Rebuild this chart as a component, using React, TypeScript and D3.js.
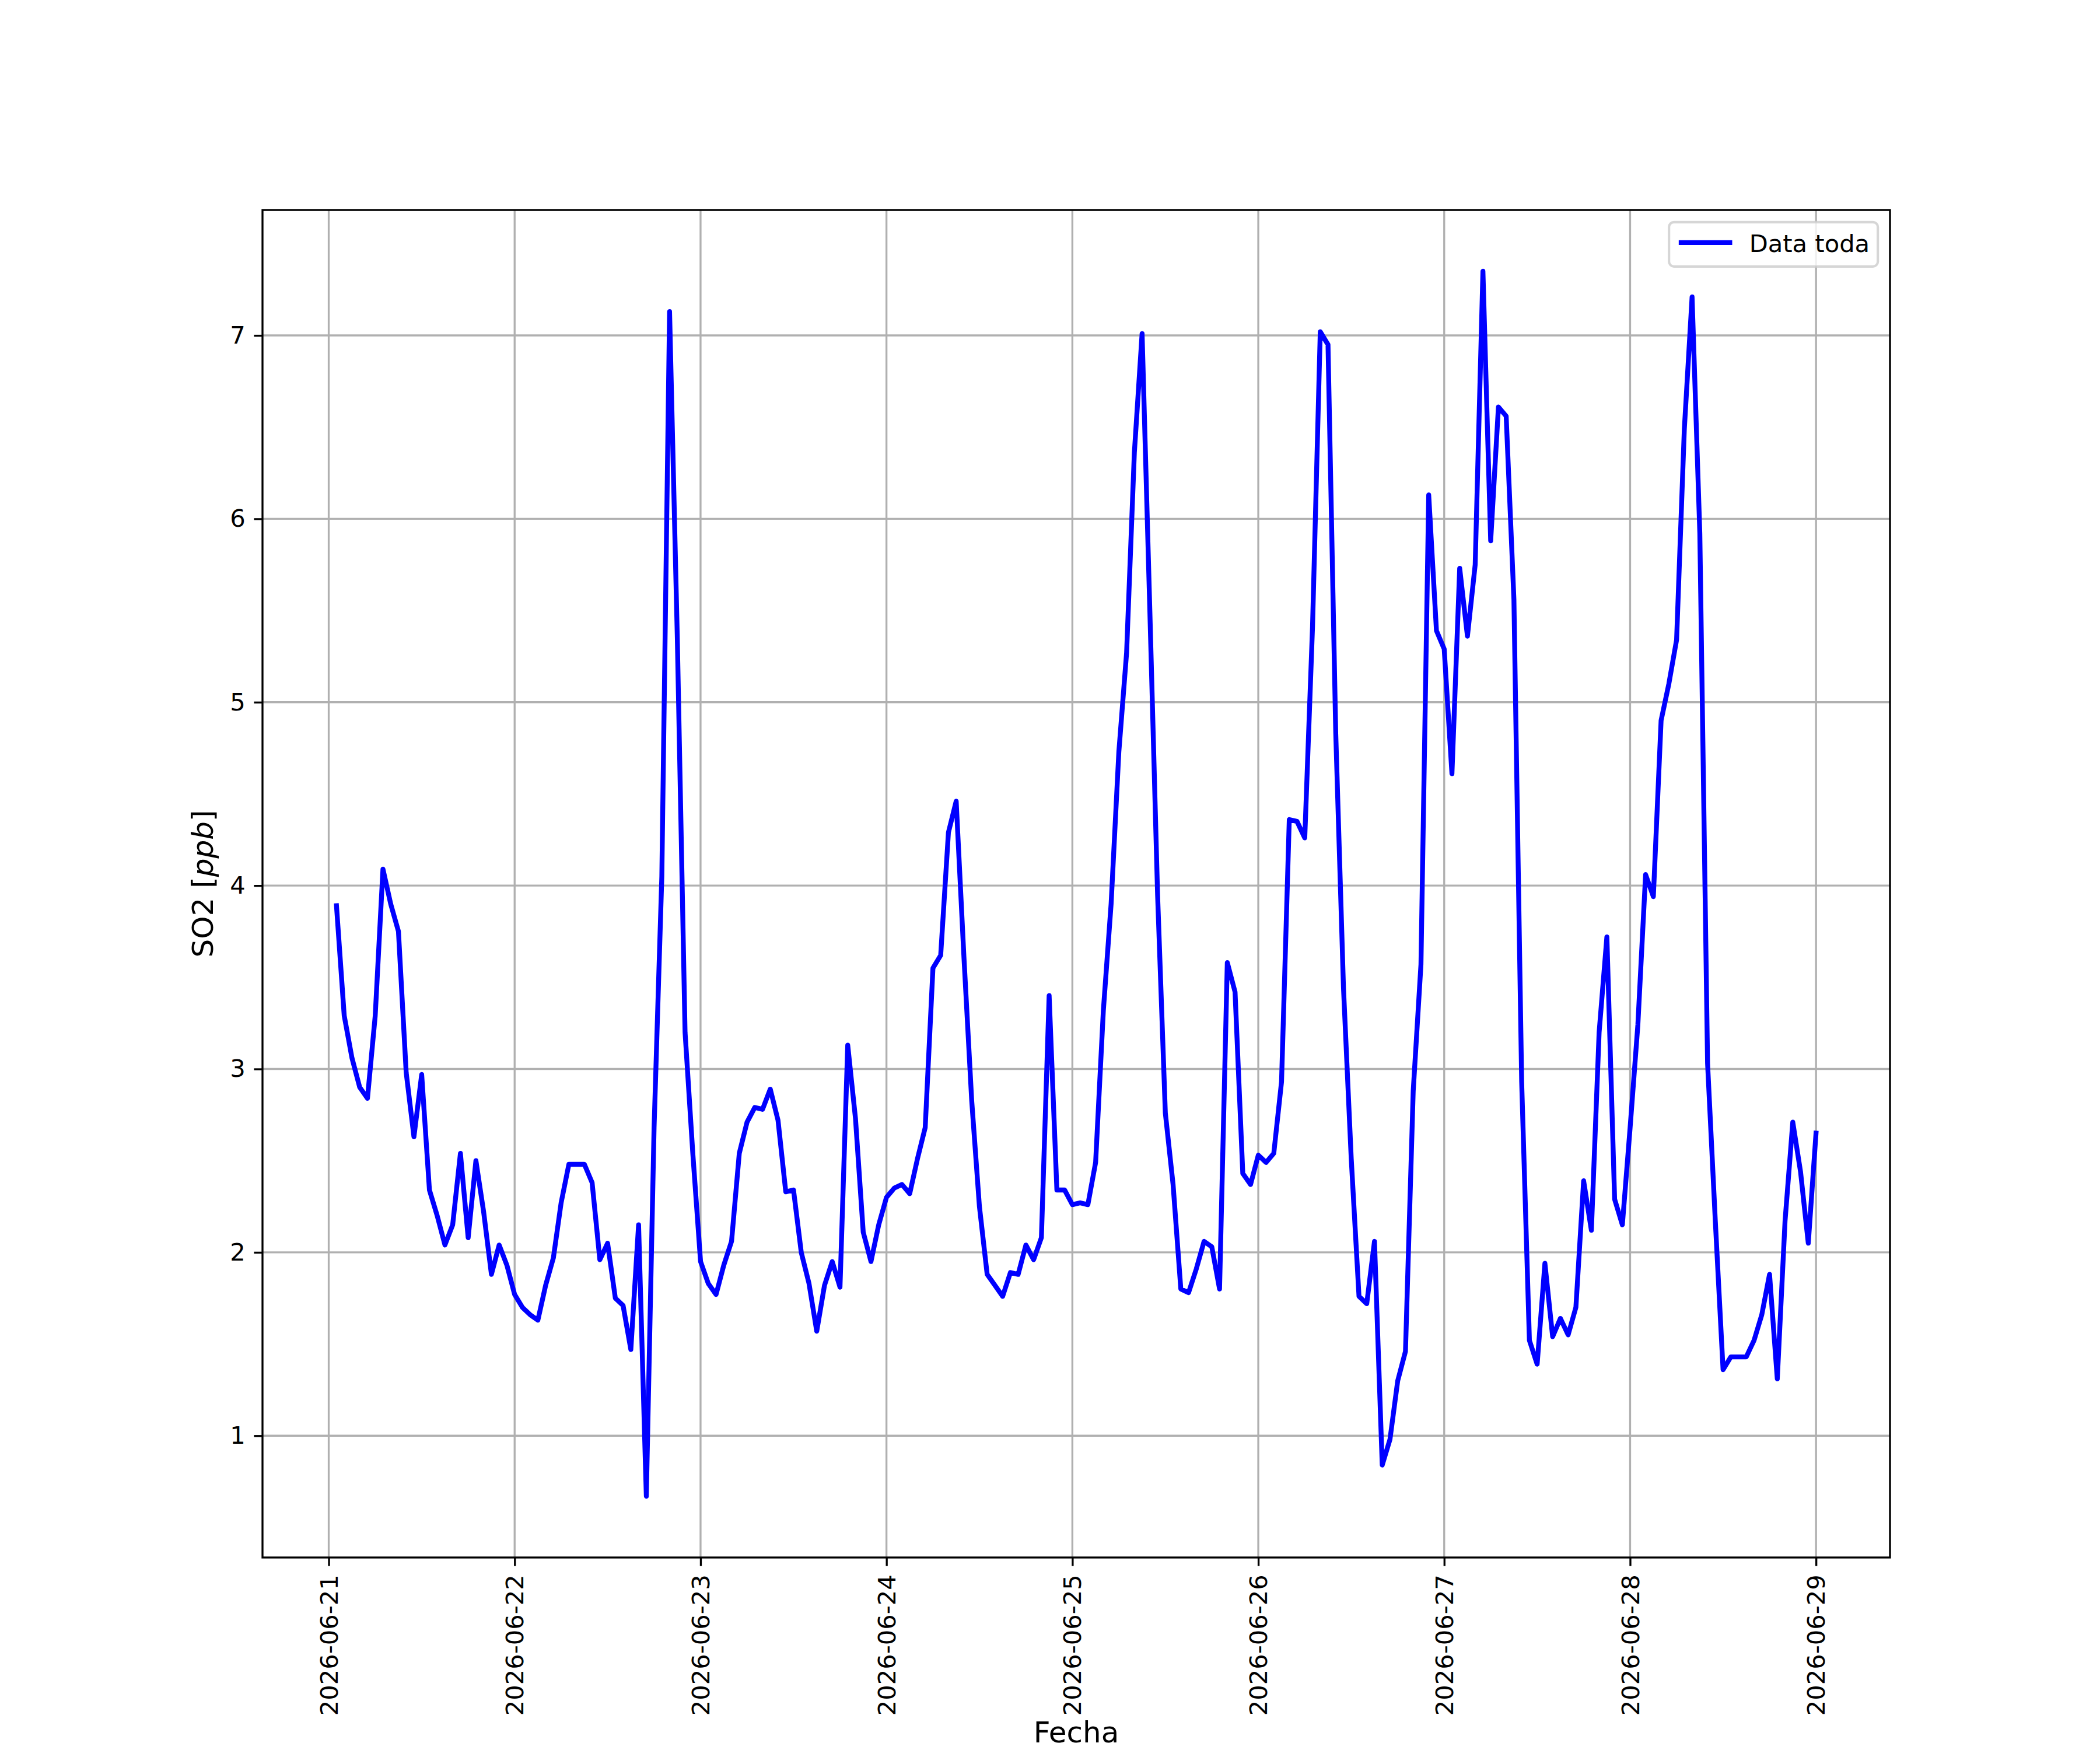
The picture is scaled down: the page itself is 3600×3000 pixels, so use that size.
import React, { useEffect, useRef } from 'react';
import * as d3 from 'd3';

// hourly SO2 readings, first one at 2026-06-21 01:00
const startTime = '2026-06-21T01:00:00Z';
const stepHours = 1;

const so2 = [
  3.89, 3.29, 3.06, 2.90, 2.84, 3.29, 4.09, 3.90, 3.75, 2.98, 2.63, 2.97,
  2.34, 2.20, 2.04, 2.15, 2.54, 2.08, 2.50, 2.22, 1.88, 2.04, 1.93, 1.77,
  1.70, 1.66, 1.63, 1.82, 1.97, 2.27, 2.48, 2.48, 2.48, 2.38, 1.96, 2.05,
  1.75, 1.71, 1.47, 2.15, 0.67, 2.68, 4.05, 7.13, 5.35, 3.20, 2.54, 1.95,
  1.83, 1.77, 1.93, 2.06, 2.54, 2.71, 2.79, 2.78, 2.89, 2.72, 2.33, 2.34,
  2.00, 1.83, 1.57, 1.82, 1.95, 1.81, 3.13, 2.73, 2.11, 1.95, 2.15, 2.30,
  2.35, 2.37, 2.32, 2.51, 2.68, 3.55, 3.62, 4.29, 4.46, 3.61, 2.83, 2.25,
  1.88, 1.82, 1.76, 1.89, 1.88, 2.04, 1.96, 2.08, 3.40, 2.34, 2.34, 2.26,
  2.27, 2.26, 2.49, 3.32, 3.90, 4.73, 5.27, 6.36, 7.01, 5.50, 3.95, 2.76,
  2.37, 1.80, 1.78, 1.91, 2.06, 2.03, 1.80, 3.58, 3.42, 2.43, 2.37, 2.53,
  2.49, 2.54, 2.93, 4.36, 4.35, 4.26, 5.41, 7.02, 6.95, 4.83, 3.44, 2.51,
  1.76, 1.72, 2.06, 0.84, 0.98, 1.30, 1.46, 2.88, 3.57, 6.13, 5.39, 5.29,
  4.61, 5.73, 5.36, 5.75, 7.35, 5.88, 6.61, 6.56, 5.56, 2.93, 1.52, 1.39,
  1.94, 1.54, 1.64, 1.55, 1.70, 2.39, 2.12, 3.20, 3.72, 2.29, 2.15, 2.68,
  3.24, 4.06, 3.94, 4.90, 5.10, 5.34, 6.49, 7.21, 5.92, 3.03, 2.17, 1.36,
  1.43, 1.43, 1.43, 1.52, 1.66, 1.88, 1.31, 2.17, 2.71, 2.44, 2.05, 2.65,
];

const dayTicks = [
  '2026-06-21', '2026-06-22', '2026-06-23', '2026-06-24', '2026-06-25',
  '2026-06-26', '2026-06-27', '2026-06-28', '2026-06-29',
];
const yTicks = [1, 2, 3, 4, 5, 6, 7];
const seriesLabel = 'Data toda';

export default function App() {
  const svgRef = useRef<SVGSVGElement>(null);

  useEffect(() => {
    if (!svgRef.current) return;
    document.body.style.margin = '0';

    const svg = d3.select(svgRef.current);
    svg.selectAll('*').remove();

    const width = 3600;
    const height = 3000;
    const margin = { top: 360, right: 360, bottom: 330, left: 450 };
    const x0 = margin.left;
    const x1 = width - margin.right;
    const y0 = margin.top;
    const y1 = height - margin.bottom;
    const font = 'DejaVu Sans';
    const pt = 300 / 72;
    const tickLen = 3.5 * pt;
    const thin = 0.8 * pt;

    const t0 = new Date(startTime).getTime();
    const data = so2.map((v, i) => ({ t: new Date(t0 + i * stepHours * 3600e3), v }));

    // matplotlib style 5% margins on both axes
    const tMin = +data[0].t;
    const tMax = +data[data.length - 1].t;
    const tPad = (tMax - tMin) * 0.05;
    const x = d3.scaleUtc()
      .domain([new Date(tMin - tPad), new Date(tMax + tPad)])
      .range([x0, x1]);

    const [lo, hi] = d3.extent(so2) as [number, number];
    const vPad = (hi - lo) * 0.05;
    const y = d3.scaleLinear()
      .domain([lo - vPad, hi + vPad])
      .range([y1, y0]);

    const parseDay = d3.utcParse('%Y-%m-%d');
    const tickDates = dayTicks.map(d => parseDay(d) as Date);

    svg.append('rect')
      .attr('width', width)
      .attr('height', height)
      .attr('fill', '#ffffff');

    svg.append('defs')
      .append('clipPath')
      .attr('id', 'plot-clip')
      .append('rect')
      .attr('x', x0)
      .attr('y', y0)
      .attr('width', x1 - x0)
      .attr('height', y1 - y0);

    // grid
    const grid = svg.append('g')
      .attr('stroke', '#b0b0b0')
      .attr('stroke-width', thin);

    grid.selectAll('.vgrid')
      .data(tickDates)
      .enter()
      .append('line')
      .attr('x1', d => x(d))
      .attr('x2', d => x(d))
      .attr('y1', y0)
      .attr('y2', y1);

    grid.selectAll('.hgrid')
      .data(yTicks)
      .enter()
      .append('line')
      .attr('x1', x0)
      .attr('x2', x1)
      .attr('y1', d => y(d))
      .attr('y2', d => y(d));

    // series
    const line = d3.line<{ t: Date; v: number }>()
      .x(d => x(d.t))
      .y(d => y(d.v));

    svg.append('path')
      .datum(data)
      .attr('clip-path', 'url(#plot-clip)')
      .attr('fill', 'none')
      .attr('stroke', '#0000ff')
      .attr('stroke-width', 2 * pt)
      .attr('stroke-linejoin', 'round')
      .attr('stroke-linecap', 'square')
      .attr('d', line);

    // frame
    svg.append('rect')
      .attr('x', x0)
      .attr('y', y0)
      .attr('width', x1 - x0)
      .attr('height', y1 - y0)
      .attr('fill', 'none')
      .attr('stroke', '#000')
      .attr('stroke-width', thin);

    // x axis
    const xAxis = svg.append('g')
      .attr('transform', `translate(0,${y1})`)
      .call(
        d3.axisBottom(x)
          .tickValues(tickDates)
          .tickFormat(d => d3.utcFormat('%Y-%m-%d')(d as Date))
          .tickSize(tickLen)
          .tickSizeOuter(0)
      );
    xAxis.select('.domain').remove();
    xAxis.selectAll('line').attr('stroke', '#000').attr('stroke-width', thin);
    xAxis.selectAll('text')
      .attr('transform', 'rotate(-90)')
      .attr('x', -(tickLen * 2))
      .attr('y', 0)
      .attr('dy', '0.35em')
      .attr('text-anchor', 'end')
      .attr('fill', '#000')
      .style('font-family', font)
      .style('font-size', `${10 * pt}px`);

    // y axis
    const yAxis = svg.append('g')
      .attr('transform', `translate(${x0},0)`)
      .call(
        d3.axisLeft(y)
          .tickValues(yTicks)
          .tickFormat(d3.format('d'))
          .tickSize(tickLen)
          .tickPadding(tickLen)
          .tickSizeOuter(0)
      );
    yAxis.select('.domain').remove();
    yAxis.selectAll('line').attr('stroke', '#000').attr('stroke-width', thin);
    yAxis.selectAll('text')
      .attr('fill', '#000')
      .style('font-family', font)
      .style('font-size', `${10 * pt}px`);

    // axis labels
    const yLabel = svg.append('text')
      .attr('transform', `translate(365,${(y0 + y1) / 2}) rotate(-90)`)
      .attr('text-anchor', 'middle')
      .attr('fill', '#000')
      .style('font-family', font)
      .style('font-size', `${12 * pt}px`);
    yLabel.append('tspan').text('SO2 [');
    yLabel.append('tspan').attr('font-style', 'italic').text('ppb');
    yLabel.append('tspan').text(']');

    svg.append('text')
      .attr('x', (x0 + x1) / 2)
      .attr('y', 2987)
      .attr('text-anchor', 'middle')
      .attr('fill', '#000')
      .style('font-family', font)
      .style('font-size', `${12 * pt}px`)
      .text('Fecha');

    // legend
    const fs = 10 * pt;
    const legW = 358;
    const legH = 76;
    const legX = x1 - 0.5 * fs - legW;
    const legY = y0 + 0.5 * fs;
    const legend = svg.append('g');
    legend.append('rect')
      .attr('x', legX)
      .attr('y', legY)
      .attr('width', legW)
      .attr('height', legH)
      .attr('rx', 0.2 * fs)
      .attr('fill', '#ffffff')
      .attr('fill-opacity', 0.8)
      .attr('stroke', '#cccccc')
      .attr('stroke-opacity', 0.8)
      .attr('stroke-width', pt);
    const handleX = legX + 0.4 * fs + pt;
    legend.append('line')
      .attr('x1', handleX)
      .attr('x2', handleX + 2 * fs)
      .attr('y1', legY + 35)
      .attr('y2', legY + 35)
      .attr('stroke', '#0000ff')
      .attr('stroke-width', 2 * pt)
      .attr('stroke-linecap', 'square');
    legend.append('text')
      .attr('x', handleX + 2 * fs + 0.8 * fs)
      .attr('y', legY + 51)
      .attr('fill', '#000')
      .style('font-family', font)
      .style('font-size', `${fs}px`)
      .text(seriesLabel);
  }, []);

  return (
    <svg
      ref={svgRef}
      width={3600}
      height={3000}
      viewBox="0 0 3600 3000"
      style={{ position: 'absolute', left: 0, top: 0, display: 'block' }}
    />
  );
}
